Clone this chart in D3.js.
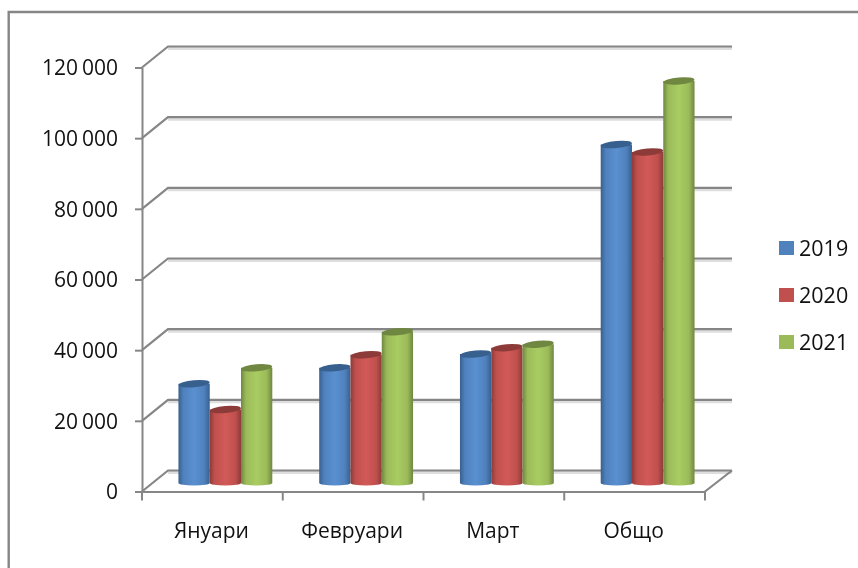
<!DOCTYPE html>
<html>
<head>
<meta charset="utf-8">
<script src="https://cdn.jsdelivr.net/npm/d3@7"></script>
<style>
  html, body { margin: 0; padding: 0; background: #fff; }
  svg { display: block; filter: blur(0.35px); }
  text { font-family: "Open Sans", sans-serif; fill: #111; }
</style>
</head>
<body>
<div id="chart"></div>
<script>
const categories = ['Януари', 'Февруари', 'Март', 'Общо'];
const years = ['2019', '2020', '2021'];
const values2019 = [28100, 32600, 36500, 95800];
const values2020 = [20800, 36300, 38300, 93700];
const values2021 = [32600, 42800, 39300, 113800];
const yTicks = [0, 20000, 40000, 60000, 80000, 100000, 120000];
const colors = ['#4f81bd', '#c0504d', '#9bbb59'];
const lightColors = ['#5a90d0', '#d25a58', '#a9cc62'];
const darkColors = ['#38608f', '#8c3b39', '#6f8740'];

const seriesValues = [values2019, values2020, values2021];
const axisColor = '#868686';
const width = 858;
const height = 568;

// 3d box of the plot: how far the back wall is shifted from the front
const depthX = 26;
const depthY = -21;

const svg = d3.select('#chart')
  .append('svg')
  .attr('width', width)
  .attr('height', height);

const defs = svg.append('defs');
colors.forEach((c, i) => {
  const grad = defs.append('linearGradient').attr('id', `cyl${i}`);
  grad.append('stop').attr('offset', '0%').attr('stop-color', darkColors[i]);
  grad.append('stop').attr('offset', '16%').attr('stop-color', c);
  grad.append('stop').attr('offset', '50%').attr('stop-color', lightColors[i]);
  grad.append('stop').attr('offset', '82%').attr('stop-color', c);
  grad.append('stop').attr('offset', '100%').attr('stop-color', darkColors[i]);
});

// outer frame
svg.append('path')
  .attr('d', `M8.7,568V12H${width}`)
  .attr('fill', 'none')
  .attr('stroke', axisColor)
  .attr('stroke-width', 2.4);

const x = d3.scaleBand().domain(categories).range([142, 705]);
const y = d3.scaleLinear().domain([0, 120000]).range([491.5, 67.5]);

const inner = d3.scaleBand().domain(years).range([0, x.bandwidth()]).paddingInner(0).paddingOuter(0.75);

// back wall gridlines and the slanted lines on the side wall
yTicks.forEach(t => {
  svg.append('line')
    .attr('x1', 168).attr('x2', 732)
    .attr('y1', y(t) + depthY + 2).attr('y2', y(t) + depthY + 2)
    .attr('stroke', '#dedede').attr('stroke-width', 3);
  svg.append('path')
    .attr('d', `M142,${y(t)}L${142 + depthX},${y(t) + depthY}H732`)
    .attr('fill', 'none')
    .attr('stroke', axisColor)
    .attr('stroke-width', 2.2);
});

// floor front right corner
svg.append('line')
  .attr('x1', 705).attr('x2', 732)
  .attr('y1', y(0)).attr('y2', y(0) + depthY)
  .attr('stroke', axisColor).attr('stroke-width', 2.2);

// axes
const xAxis = svg.append('g')
  .attr('transform', `translate(0,${y(0)})`)
  .call(d3.axisBottom(x).tickValues([]).tickSizeOuter(0));
xAxis.select('.domain').attr('stroke', axisColor).attr('stroke-width', 2);
xAxis.selectAll('.edge').data(d3.range(5)).enter().append('line')
  .attr('x1', i => 142 + i * x.step()).attr('x2', i => 142 + i * x.step())
  .attr('y1', 0).attr('y2', 9)
  .attr('stroke', axisColor).attr('stroke-width', 2);

const yAxis = svg.append('g')
  .attr('transform', 'translate(142,0)')
  .call(d3.axisLeft(y).tickValues(yTicks).tickSize(7).tickSizeOuter(0)
    .tickFormat(d => d === 0 ? '0' : d3.format(',')(d).replace(/,/g, ' ')));
yAxis.select('.domain').attr('stroke', axisColor).attr('stroke-width', 2);
yAxis.selectAll('.tick line').attr('stroke', axisColor).attr('stroke-width', 2);
yAxis.selectAll('.tick text')
  .attr('x', -24)
  .attr('y', 0.5)
  .style('font-family', '"Open Sans", sans-serif')
  .style('font-size', '21px')
  .style('word-spacing', '-1.5px')
  .style('fill', '#111');

// category labels
svg.selectAll('.cat')
  .data(categories)
  .enter()
  .append('text')
  .attr('class', 'cat')
  .attr('x', d => x(d) + x.bandwidth() / 2 - 1)
  .attr('y', 538)
  .attr('text-anchor', 'middle')
  .style('font-size', '21px')
  .text(d => d);

// cylinders, sitting in the middle of the floor depth
const midX = depthX / 2;
const midY = -8.5;
const rows = categories.flatMap((c, ci) => years.map((yr, si) => ({
  cat: c, year: yr, si, value: seriesValues[si][ci]
})));

const bar = svg.selectAll('.bar')
  .data(rows)
  .enter()
  .append('g')
  .attr('class', 'bar')
  .attr('transform', d => `translate(${x(d.cat) + inner(d.year) + midX},0)`);

bar.append('path')
  .attr('d', d => {
    const w = inner.bandwidth();
    const top = y(d.value) + midY;
    const bottom = y(0) + midY;
    return `M0,${top}V${bottom}A${w / 2},2.5 0 0 0 ${w},${bottom}V${top}Z`;
  })
  .attr('fill', d => `url(#cyl${d.si})`);

bar.append('ellipse')
  .attr('cx', inner.bandwidth() / 2)
  .attr('cy', d => y(d.value) + midY)
  .attr('rx', inner.bandwidth() / 2)
  .attr('ry', 3.5)
  .attr('fill', d => darkColors[d.si])
  .attr('transform', d => `rotate(-5 ${inner.bandwidth() / 2} ${y(d.value) + midY})`);

// legend
const legend = svg.selectAll('.legend')
  .data(years)
  .enter()
  .append('g')
  .attr('class', 'legend')
  .attr('transform', (d, i) => `translate(779,${241 + i * 47})`);

legend.append('rect')
  .attr('width', 15).attr('height', 14)
  .attr('fill', (d, i) => colors[i]);

legend.append('text')
  .attr('x', 20).attr('y', 15)
  .style('font-size', '21.5px')
  .text(d => d);
</script>
</body>
</html>
